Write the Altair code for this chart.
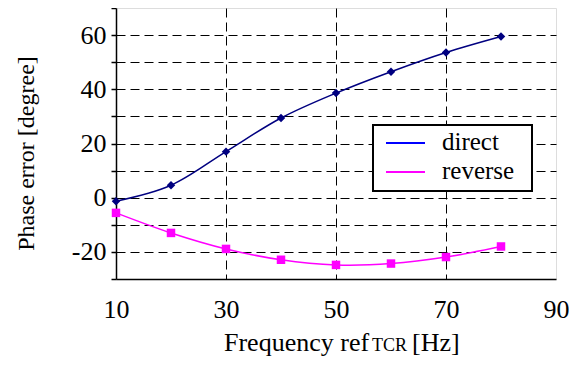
import altair as alt
import pandas as pd

# ---- data ----
freq = [10, 20, 30, 40, 50, 60, 70, 80]
direct = [-1.3, 4.6, 17.0, 29.4, 38.6, 46.5, 53.6, 59.5]
reverse = [-5.6, -13.0, -18.9, -22.9, -24.8, -24.3, -21.9, -18.0]
series_names = ["direct", "reverse"]
series_colors = ["#000080", "#FF00FF"]
legend_colors = ["#0000FF", "#FF00FF"]
series_shapes = ["diamond", "square"]
x_ticks = [10, 30, 50, 70, 90]
y_ticks = list(range(-30, 71, 10))
y_title = "Phase error [degree]"
x_title_main = "Frequency ref"
x_title_sub = "TCR"
x_title_unit = "[Hz]"

rows = []
for name, vals in zip(series_names, [direct, reverse]):
    for f, v in zip(freq, vals):
        rows.append({"freq": f, "value": v, "series": name})
df = pd.DataFrame(rows)

FONT = "Liberation Serif, Times New Roman, serif"
W, H = 440, 271

x_enc = alt.X(
    "freq:Q",
    scale=alt.Scale(domain=[10, 90], nice=False, zero=False),
    axis=alt.Axis(
        values=x_ticks, title=None, labelFontSize=26, labelPadding=17,
        labelFlush=False, labelOverlap=False, labelBound=False,
        ticks=False, tickSize=0, domainColor="black", domainWidth=1.5,
        labelColor="black", labelFont=FONT,
        labelExpr="'' + datum.value",
        grid=True, gridDash=[9, 5], gridColor="black", gridWidth=1,
        gridOpacity={"condition": {"test": "datum.value == 10 || datum.value == 90", "value": 0}, "value": 1},
    ),
)
y_enc = alt.Y(
    "value:Q",
    scale=alt.Scale(domain=[-30, 70], nice=False, zero=False),
    axis=alt.Axis(
        values=y_ticks, labelExpr="datum.value % 20 == 0 ? '' + datum.value : ''",
        labelFlush=False, labelOverlap=False,
        labelFontSize=26, labelPadding=5, tickSize=5, tickColor="black", tickWidth=1.5,
        domainColor="black", domainWidth=1.5, labelColor="black", labelFont=FONT,
        grid=True, gridDash=[9, 5], gridColor="black", gridWidth=1,
        gridOpacity={"condition": {"test": "datum.value == 70 || datum.value == -30", "value": 0}, "value": 1},
        title=y_title, titleFont=FONT, titleFontSize=24, titleFontWeight="normal",
        titleColor="black", titleAngle=270, titleX=-83, titleY=145,
        titleBaseline="alphabetic", titleAlign="center",
    ),
)
color_enc = alt.Color("series:N", scale=alt.Scale(domain=series_names, range=series_colors), legend=None)
shape_enc = alt.Shape("series:N", scale=alt.Scale(domain=series_names, range=series_shapes), legend=None)

base = alt.Chart(df)
lines = base.mark_line(interpolate="catmull-rom", strokeWidth=1.5).encode(x=x_enc, y=y_enc, color=color_enc, detail="series:N")
points = base.mark_point(filled=True, size=72, opacity=1).encode(x=x_enc, y=y_enc, color=color_enc, shape=shape_enc)

one = alt.Data(values=[{}])
layers = [lines, points]

# legend box
layers.append(
    alt.Chart(one).mark_rect(fill="white", stroke="black", strokeWidth=2).encode(
        x=alt.value(257), x2=alt.value(416), y=alt.value(117), y2=alt.value(183)
    )
)
for i, (name, col) in enumerate(zip(series_names, legend_colors)):
    yy = 135 + i * 29
    layers.append(
        alt.Chart(one).mark_rule(color=col, strokeWidth=2).encode(
            x=alt.value(270), x2=alt.value(309), y=alt.value(yy)
        )
    )
    layers.append(
        alt.Chart(one).mark_text(text=name, font=FONT, fontSize=25, align="left", baseline="middle", color="black").encode(
            x=alt.value(326), y=alt.value(yy - 1)
        )
    )

# x-axis title with subscript
TY = 343
layers.append(
    alt.Chart(one).mark_text(text=x_title_main, font=FONT, fontSize=26, align="left", baseline="alphabetic", color="black").encode(
        x=alt.value(108), y=alt.value(TY)
    )
)
layers.append(
    alt.Chart(one).mark_text(text=x_title_sub, font=FONT, fontSize=18, align="left", baseline="alphabetic", color="black").encode(
        x=alt.value(256), y=alt.value(TY)
    )
)
layers.append(
    alt.Chart(one).mark_text(text=x_title_unit, font=FONT, fontSize=26, align="left", baseline="alphabetic", color="black").encode(
        x=alt.value(296), y=alt.value(TY)
    )
)

chart = alt.layer(*layers).properties(
    width=W, height=H,
    autosize=alt.AutoSizeParams(type="none"),
    padding={"left": 108, "top": 0, "right": 13, "bottom": 78},
).configure_view(stroke="#888888", strokeWidth=1).configure(font=FONT)

chart.save("out.html", embed_options={"renderer": "svg", "actions": False})
